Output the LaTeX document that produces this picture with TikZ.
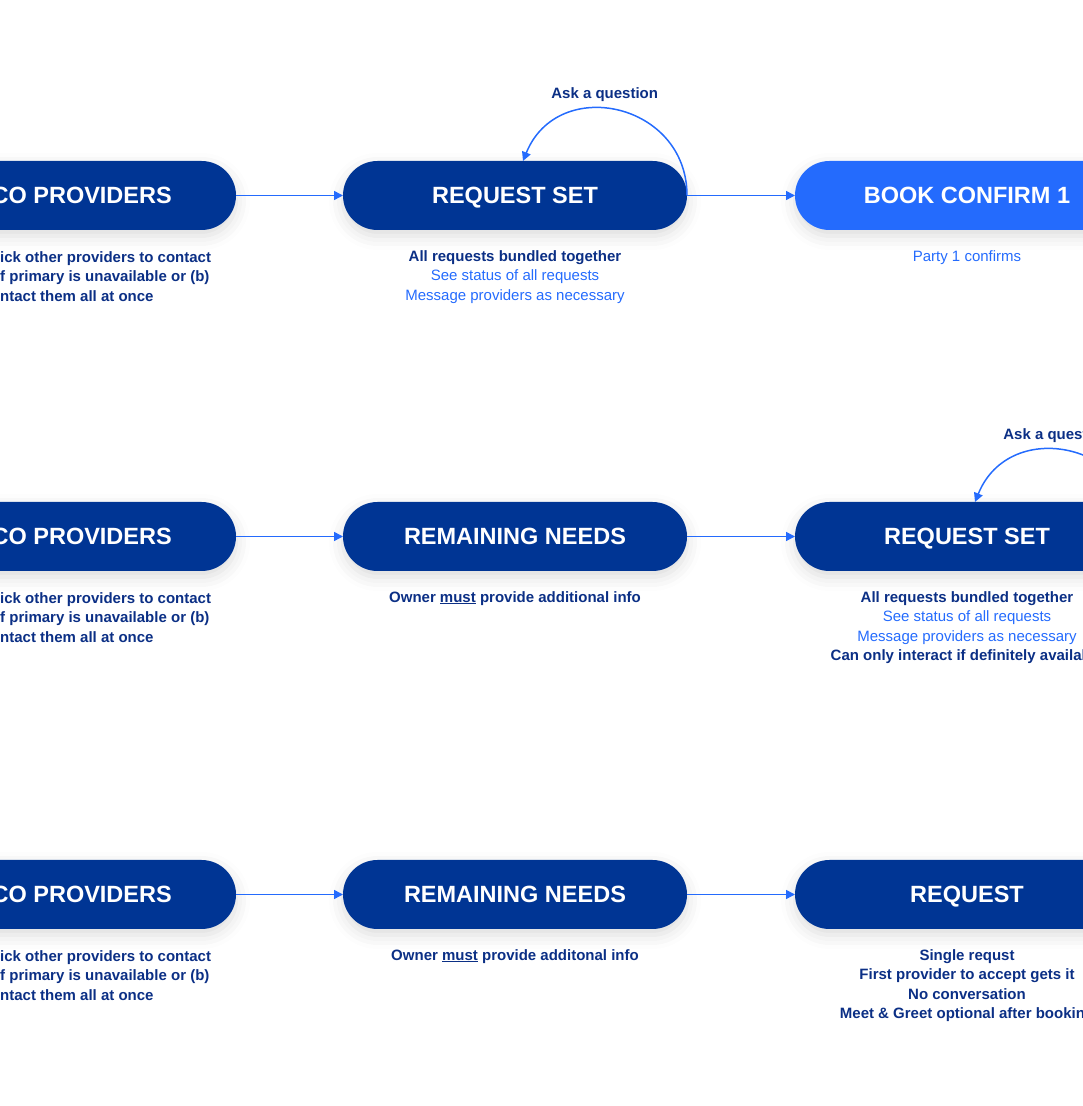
\documentclass[tikz,border=0pt]{standalone}
\usepackage{fontspec}
\setmainfont{Liberation Sans}
\usetikzlibrary{positioning,arrows.meta,shadows.blur}

\definecolor{navy}{HTML}{003594}
\definecolor{brightblue}{HTML}{246BFD}
\definecolor{inkblue}{HTML}{0B2F85}
\newcommand{\darkline}[1]{{\bfseries\color{inkblue}#1}}

\begin{document}
\begin{tikzpicture}[x=1pt, y=1pt,
        pill/.style={rectangle, rounded corners=34.5pt, fill=navy, minimum width=344pt, minimum height=69pt,
            inner sep=0pt, outer sep=0pt, text=white, font=\fontsize{23.5}{28}\selectfont\bfseries,
            text height=17pt, text depth=0pt,
            blur shadow={shadow xshift=0pt, shadow yshift=-6pt, shadow blur radius=14pt, shadow opacity=14}},
        pilltext/.style={inner sep=0pt, text=white, font=\fontsize{23.5}{28}\selectfont\bfseries},
        desc/.style={align=center, inner sep=0pt, text=brightblue, font=\fontsize{15}{19.5}\selectfont},
        ask/.style={inner sep=0pt, text=inkblue, font=\fontsize{15}{18}\selectfont\bfseries},
        flow/.style={draw=brightblue, line width=1.5pt, -{Triangle[length=9pt,width=9pt]}}
    ]
    \path[use as bounding box, clip] (0,0) rectangle (1083,1106);

    % row 1
    \node[pill] (cop1) at (64,910.5) {};
    \node[pilltext, anchor=east] (cop1t) at ([xshift=-64pt]cop1.east) {CO PROVIDERS};
    \node[pill, right=107pt of cop1] (rs1) {REQUEST SET};
    \node[pill, fill=brightblue, right=108pt of rs1] (bc1) {BOOK CONFIRM 1};

    \node[desc, align=left, anchor=north west] (cop1d) at (0,855) {\darkline{ick other providers to contact}\\ \darkline{f primary is unavailable or (b)}\\ \darkline{ntact them all at once}};
    \node[desc, below=20pt of rs1] (rs1d) {\darkline{All requests bundled together}\\ See status of all requests\\ Message providers as necessary};
    \node[desc, below=20pt of bc1] (bc1d) {Party 1 confirms};

    \draw[flow] (cop1) -- (rs1);
    \draw[flow] (rs1) -- (bc1);
    \draw[flow] (rs1.east) to[out=90, in=68, looseness=1.42] node[ask, pos=0.56, above=7pt] (ask1) {Ask a question} ([xshift=8pt]rs1.north);

    % row 2
    \node[pill] (cop2) at (64,569.5) {};
    \node[pilltext, anchor=east] (cop2t) at ([xshift=-64pt]cop2.east) {CO PROVIDERS};
    \node[pill, right=107pt of cop2] (rn2) {REMAINING NEEDS};
    \node[pill, right=108pt of rn2] (rs2) {REQUEST SET};

    \node[desc, align=left, anchor=north west] (cop2d) at (0,514) {\darkline{ick other providers to contact}\\ \darkline{f primary is unavailable or (b)}\\ \darkline{ntact them all at once}};
    \node[desc, below=20pt of rn2] (rn2d) {\darkline{Owner \underline{must} provide additional info}};
    \node[desc, below=20pt of rs2] (rs2d) {\darkline{All requests bundled together}\\ See status of all requests\\ Message providers as necessary\\ \darkline{Can only interact if definitely available}};

    \draw[flow] (cop2) -- (rn2);
    \draw[flow] (rn2) -- (rs2);
    \draw[flow] (rs2.east) to[out=90, in=68, looseness=1.42] node[ask, pos=0.56, above=7pt] (ask2) {Ask a question} ([xshift=8pt]rs2.north);

    % row 3
    \node[pill] (cop3) at (64,211.5) {};
    \node[pilltext, anchor=east] (cop3t) at ([xshift=-64pt]cop3.east) {CO PROVIDERS};
    \node[pill, right=107pt of cop3] (rn3) {REMAINING NEEDS};
    \node[pill, right=108pt of rn3] (rq3) {REQUEST};

    \node[desc, align=left, anchor=north west] (cop3d) at (0,156) {\darkline{ick other providers to contact}\\ \darkline{f primary is unavailable or (b)}\\ \darkline{ntact them all at once}};
    \node[desc, below=20pt of rn3] (rn3d) {\darkline{Owner \underline{must} provide additonal info}};
    \node[desc, below=20pt of rq3] (rq3d) {\darkline{Single requst}\\ \darkline{First provider to accept gets it}\\ \darkline{No conversation}\\ \darkline{Meet \& Greet optional after booking}};

    \draw[flow] (cop3) -- (rn3);
    \draw[flow] (rn3) -- (rq3);
\end{tikzpicture}
\end{document}
